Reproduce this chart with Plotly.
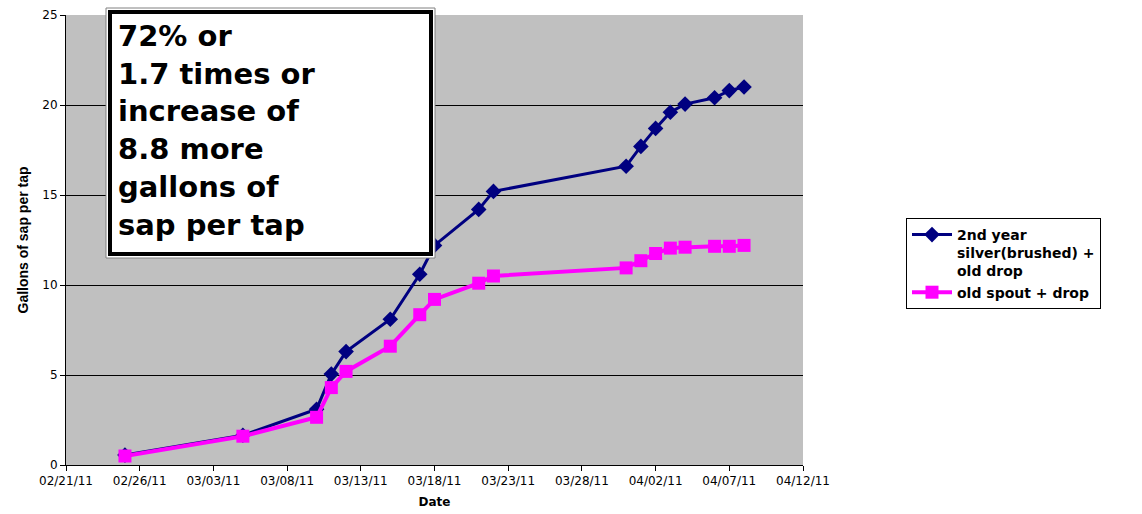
import plotly.graph_objects as go

# sampling dates (season 2011)
dates = ["2011-02-25", "2011-03-05", "2011-03-10", "2011-03-11", "2011-03-12",
         "2011-03-15", "2011-03-17", "2011-03-18", "2011-03-21", "2011-03-22",
         "2011-03-31", "2011-04-01", "2011-04-02", "2011-04-03", "2011-04-04",
         "2011-04-06", "2011-04-07", "2011-04-08"]

# cumulative gallons of sap per tap
silver_brushed = [0.55, 1.65, 3.1, 5.05, 6.3, 8.1, 10.6, 12.2, 14.2, 15.2,
                  16.6, 17.7, 18.7, 19.6, 20.05, 20.4, 20.8, 21.0]
old_spout = [0.5, 1.6, 2.65, 4.3, 5.2, 6.6, 8.35, 9.2, 10.1, 10.5,
             10.95, 11.35, 11.75, 12.05, 12.1, 12.15, 12.15, 12.2]

names = ["2nd year<br>silver(brushed) +<br>old drop", "old spout + drop"]
box_text = "72% or<br>1.7 times or<br>increase of<br>8.8 more<br>gallons of<br>sap per tap"

# plot area in pixels: x 66..803, y 15..465
def px(x):
    return (x - 66) / 737

def py(y):
    return (465 - y) / 450

fig = go.Figure()
fig.add_trace(go.Scatter(
    x=dates, y=silver_brushed, name=names[0], mode="lines+markers",
    line=dict(color="#000080", width=3),
    marker=dict(symbol="diamond", size=12, color="#000080"),
))
fig.add_trace(go.Scatter(
    x=dates, y=old_spout, name=names[1], mode="lines+markers",
    line=dict(color="#FF00FF", width=4),
    marker=dict(symbol="square", size=13, color="#FF00FF"),
))

# text box with double frame
fig.add_shape(type="rect", xref="paper", yref="paper",
              x0=px(106), x1=px(435), y0=py(258), y1=py(8),
              line=dict(color="#808080", width=1), fillcolor="white")
fig.add_shape(type="rect", xref="paper", yref="paper",
              x0=px(110), x1=px(431), y0=py(254), y1=py(12),
              line=dict(color="black", width=4), fillcolor="white")
fig.add_annotation(
    xref="paper", yref="paper", x=px(116), y=py(17),
    xanchor="left", yanchor="top", align="left", showarrow=False,
    text=box_text,
    font=dict(family="DejaVu Sans", size=29, color="black", weight="bold"),
)

fig.update_layout(
    width=1142, height=514,
    margin=dict(l=66, r=339, t=15, b=49),
    plot_bgcolor="#C0C0C0", paper_bgcolor="white",
    font=dict(family="DejaVu Sans", color="black"),
    legend=dict(
        x=px(906), y=py(218), xanchor="left", yanchor="top",
        bgcolor="white", bordercolor="black", borderwidth=1,
        font=dict(family="DejaVu Sans", size=14, weight="bold"),
        valign="top", tracegroupgap=0, itemwidth=40,
    ),
    xaxis=dict(
        type="date", range=["2011-02-21", "2011-04-12"], automargin=False,
        tick0="2011-02-21", dtick=5 * 86400000, tickformat="%m/%d/%y",
        showgrid=False, showline=True, linecolor="black", linewidth=1,
        ticks="outside", ticklen=5, tickcolor="black",
        tickfont=dict(size=12),
        title=dict(text="<b>Date</b>", font=dict(size=12), standoff=10),
    ),
    yaxis=dict(
        range=[0, 25], dtick=5, automargin=False,
        showgrid=True, gridcolor="black", gridwidth=1,
        showline=True, linecolor="black", linewidth=1,
        ticks="outside", ticklen=5, tickcolor="black",
        tickfont=dict(size=12), zeroline=False,
        title=dict(text="<b>Gallons of sap per tap</b>",
                   font=dict(family="Liberation Sans", size=14), standoff=10),
    ),
)

fig.write_html("out.html", config={"displayModeBar": False},
               post_script="document.body.style.margin = '0';")
